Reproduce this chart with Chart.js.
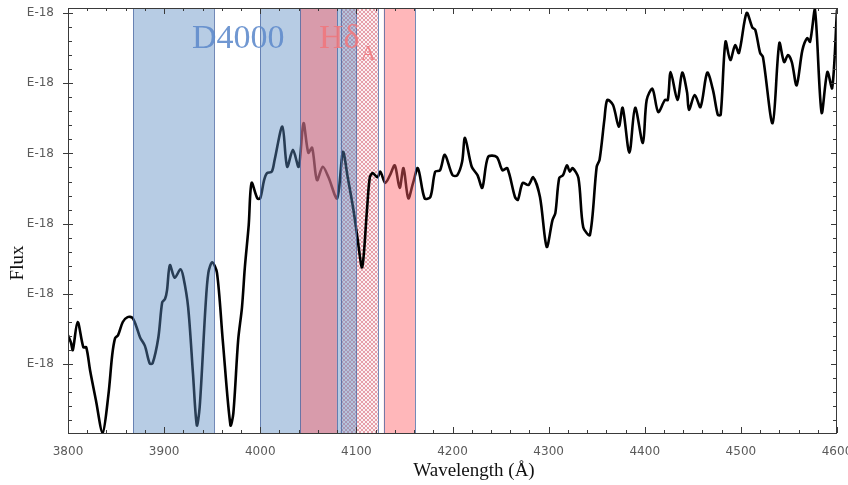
<!DOCTYPE html>
<html>
<head>
<meta charset="utf-8">
<script src="https://cdn.jsdelivr.net/npm/chart.js@4.4.1/dist/chart.umd.min.js"></script>
<style>
  body { margin: 0; background: #fff; }
  canvas { display: block; }
</style>
</head>
<body>
<canvas id="spec" width="848" height="485"></canvas>
<script>
// spectrum samples (Angstrom, flux in units of the E-18 ticks)
const wavelength = [
  3800, 3803, 3805, 3810, 3816, 3819, 3823, 3829, 3836, 3842,
  3846, 3849, 3852, 3857, 3862, 3867, 3871, 3875, 3880, 3885,
  3888, 3894, 3898, 3901, 3903, 3906, 3911, 3917, 3920, 3925,
  3930, 3934, 3937, 3943, 3946, 3950, 3955, 3961, 3969, 3972,
  3977, 3981, 3984, 3988, 3991, 3997, 4000, 4004, 4007, 4012,
  4015, 4023, 4028, 4034, 4040, 4045, 4050, 4054, 4059, 4065,
  4071, 4080, 4086, 4091, 4097, 4101, 4106, 4111, 4114, 4117,
  4122, 4125, 4130, 4135, 4140, 4145, 4149, 4154, 4159, 4164,
  4171, 4177, 4182, 4187, 4192, 4200, 4205, 4210, 4213, 4220,
  4226, 4231, 4237, 4246, 4252, 4257, 4265, 4268, 4273, 4279,
  4284, 4291, 4298, 4304, 4307, 4311, 4315, 4319, 4322, 4325,
  4331, 4336, 4343, 4350, 4353, 4358, 4361, 4367, 4373, 4377,
  4384, 4390, 4398, 4402, 4408, 4414, 4421, 4424, 4427, 4434,
  4439, 4444, 4446, 4452, 4458, 4465, 4471, 4476, 4479, 4484,
  4489, 4494, 4498, 4506, 4512, 4515, 4520, 4523, 4533, 4540,
  4545, 4549, 4553, 4558, 4564, 4569, 4572, 4577, 4584, 4590,
  4595, 4600
];
const flux = [
  1.41, 1.31, 1.20, 1.60, 1.24, 1.24, 0.91, 0.49, 0.02, 0.56,
  1.13, 1.37, 1.41, 1.60, 1.67, 1.66, 1.54, 1.38, 1.26, 1.01,
  1.01, 1.38, 1.88, 1.93, 2.05, 2.41, 2.23, 2.35, 2.24, 1.81,
  0.87, 0.13, 0.39, 1.81, 2.30, 2.45, 2.30, 1.34, 0.13, 0.30,
  1.34, 1.81, 2.38, 2.98, 3.58, 3.36, 3.36, 3.62, 3.72, 3.74,
  3.91, 4.38, 3.81, 4.05, 3.81, 4.43, 4.01, 4.08, 3.62, 3.81,
  3.66, 3.36, 4.02, 3.66, 3.19, 2.81, 2.38, 3.19, 3.66, 3.72,
  3.66, 3.74, 3.58, 3.69, 3.83, 3.51, 3.79, 3.36, 3.58, 3.79,
  3.36, 3.38, 3.74, 3.76, 3.98, 3.69, 3.69, 3.88, 4.22, 3.81,
  3.69, 3.51, 3.95, 3.95, 3.76, 3.79, 3.38, 3.34, 3.58, 3.55,
  3.66, 3.38, 2.67, 3.05, 3.15, 3.65, 3.69, 3.83, 3.74, 3.79,
  3.65, 2.95, 2.84, 3.81, 3.91, 4.48, 4.76, 4.69, 4.38, 4.65,
  4.01, 4.65, 4.15, 4.76, 4.92, 4.59, 4.76, 4.76, 5.16, 4.76,
  5.15, 4.87, 4.62, 4.83, 4.66, 5.15, 4.90, 4.55, 4.55, 5.59,
  5.33, 5.54, 5.43, 6.00, 5.79, 5.76, 5.43, 5.37, 4.43, 5.57,
  5.30, 5.40, 5.30, 4.97, 5.47, 5.64, 5.59, 6.05, 4.58, 5.16,
  4.93, 6.04
];

// index windows
const d4000From = [3868, 4000];
const d4000To = [3952, 4100];
const hdContFrom = [4041.6, 4128.5];
const hdContTo = [4079.75, 4161.0];
const hdLineFrom = [4083.5];
const hdLineTo = [4122.25];

// axes
const xTickValues = [3800, 3900, 4000, 4100, 4200, 4300, 4400, 4500, 4600];
const xMinorStep = 20;
const yTickValues = [1, 2, 3, 4, 5, 6];
const yTickLabels = ['E-18', 'E-18', 'E-18', 'E-18', 'E-18', 'E-18'];
const yMinorStep = 0.2;

const SERIF = '"Liberation Serif", "DejaVu Serif", serif';

// small cross-hatch tile for the line window
function hatchPattern(ctx) {
  const t = document.createElement('canvas');
  t.width = 4; t.height = 4;
  const c = t.getContext('2d');
  c.fillStyle = 'rgba(252, 240, 242, 1)';
  c.fillRect(0, 0, 4, 4);
  c.fillStyle = 'rgba(215, 105, 120, 0.6)';
  for (let i = 0; i < 4; i++) {
    c.fillRect(i, i, 1, 1);
    c.fillRect(3 - i, i, 1, 1);
  }
  return ctx.createPattern(t, 'repeat');
}

function bandEdges(ctx, x, a, from, to) {
  const x0 = Math.round(x.getPixelForValue(from)) + 0.5;
  const x1 = Math.round(x.getPixelForValue(to)) + 0.5;
  ctx.strokeStyle = 'rgba(70, 100, 160, 0.75)';
  ctx.lineWidth = 1;
  ctx.beginPath();
  ctx.moveTo(x0, a.top); ctx.lineTo(x0, a.bottom);
  ctx.moveTo(x1, a.top); ctx.lineTo(x1, a.bottom);
  ctx.stroke();
}

function bandFill(ctx, x, a, from, to, fill) {
  const x0 = x.getPixelForValue(from), x1 = x.getPixelForValue(to);
  ctx.fillStyle = fill;
  ctx.fillRect(x0, a.top, x1 - x0, a.bottom - a.top);
}

const bandsPlugin = {
  id: 'bands',
  // hatched line window sits beneath the spectrum
  beforeDatasetsDraw(chart) {
    const { ctx, chartArea: a, scales: { x } } = chart;
    ctx.save();
    const pat = hatchPattern(ctx);
    hdLineFrom.forEach((f, i) => bandFill(ctx, x, a, f, hdLineTo[i], pat));
    ctx.restore();
  },
  // continuum windows are washed over it
  afterDatasetsDraw(chart) {
    const { ctx, chartArea: a, scales: { x } } = chart;
    ctx.save();
    d4000From.forEach((f, i) => bandFill(ctx, x, a, f, d4000To[i], 'rgba(92, 138, 193, 0.44)'));
    hdContFrom.forEach((f, i) => bandFill(ctx, x, a, f, hdContTo[i], 'rgba(255, 96, 102, 0.45)'));
    d4000From.forEach((f, i) => bandEdges(ctx, x, a, f, d4000To[i]));
    hdContFrom.forEach((f, i) => bandEdges(ctx, x, a, f, hdContTo[i]));
    hdLineFrom.forEach((f, i) => bandEdges(ctx, x, a, f, hdLineTo[i]));

    // band names
    ctx.textBaseline = 'alphabetic';
    ctx.textAlign = 'left';
    ctx.fillStyle = 'rgba(96, 140, 204, 0.9)';
    ctx.font = '34px ' + SERIF;
    ctx.fillText('D4000', 192, 48);
    ctx.fillStyle = 'rgba(240, 120, 125, 0.9)';
    ctx.fillText('Hδ', 319, 48);
    ctx.font = '20px ' + SERIF;
    ctx.fillText('A', 361, 60);
    ctx.restore();
  }
};

const framePlugin = {
  id: 'frame',
  afterDraw(chart) {
    const { ctx, chartArea: a, scales: { x, y } } = chart;
    ctx.save();
    ctx.strokeStyle = '#3a3a3a';
    ctx.lineWidth = 1;
    ctx.strokeRect(a.left + 0.5, a.top + 0.5, a.right - a.left - 1, a.bottom - a.top);
    ctx.beginPath();
    // x ticks on bottom and top edges
    for (let v = x.min; v <= x.max + 0.01; v += xMinorStep) {
      const px = Math.round(x.getPixelForValue(v)) + 0.5;
      const major = xTickValues.includes(Math.round(v));
      const len = major ? 6 : 3;
      ctx.moveTo(px, a.bottom); ctx.lineTo(px, a.bottom - len);
      ctx.moveTo(px, a.top); ctx.lineTo(px, a.top + len);
    }
    // y ticks on left and right edges
    for (let v = 0; v <= y.max + 0.001; v += yMinorStep) {
      if (v < y.min) continue;
      const py = Math.round(y.getPixelForValue(v)) + 0.5;
      const major = Math.abs(v - Math.round(v)) < 0.01 && yTickValues.includes(Math.round(v));
      if (major) {
        ctx.moveTo(a.left - 5, py); ctx.lineTo(a.left + 5, py);
        ctx.moveTo(a.right, py); ctx.lineTo(a.right - 6, py);
      } else {
        ctx.moveTo(a.left, py); ctx.lineTo(a.left + 4, py);
        ctx.moveTo(a.right, py); ctx.lineTo(a.right - 4, py);
      }
    }
    ctx.stroke();

    // axis titles
    ctx.fillStyle = '#111';
    ctx.font = '19px ' + SERIF;
    ctx.textAlign = 'center';
    ctx.textBaseline = 'alphabetic';
    ctx.fillText('Wavelength (Å)', 474, 476);
    ctx.translate(23, 263);
    ctx.rotate(-Math.PI / 2);
    ctx.fillText('Flux', 0, 0);
    ctx.restore();
  }
};

new Chart(document.getElementById('spec'), {
  type: 'line',
  data: {
    datasets: [{
      data: wavelength.map((w, i) => ({ x: w, y: flux[i] })),
      borderColor: '#000',
      borderWidth: 2.6,
      pointRadius: 0,
      tension: 0.3,
      fill: false
    }]
  },
  options: {
    responsive: false,
    animation: false,
    layout: { padding: { top: 8, right: 11, left: 0, bottom: 0 } },
    plugins: { legend: { display: false }, tooltip: { enabled: false } },
    scales: {
      x: {
        type: 'linear',
        min: 3800,
        max: 4600,
        afterBuildTicks: s => { s.ticks = xTickValues.map(v => ({ value: v })); },
        afterFit: s => { s.height = 52; s.paddingLeft = 0; s.paddingRight = 0; },
        grid: { display: false },
        border: { display: false },
        ticks: {
          color: '#5a5a5a',
          font: { family: '"DejaVu Sans", sans-serif', size: 12 },
          padding: 4,
          maxRotation: 0,
          autoSkip: false,
          callback: v => String(v)
        }
      },
      y: {
        min: 0.02,
        max: 6.07,
        afterBuildTicks: s => { s.ticks = yTickValues.map(v => ({ value: v })); },
        afterFit: s => { s.width = 68; s.paddingTop = 0; s.paddingBottom = 0; },
        grid: { display: false },
        border: { display: false },
        ticks: {
          color: '#5a5a5a',
          font: { family: '"DejaVu Sans", sans-serif', size: 12 },
          padding: 6,
          callback: (v, i) => yTickLabels[i]
        }
      }
    }
  },
  plugins: [bandsPlugin, framePlugin]
});
</script>
</body>
</html>
